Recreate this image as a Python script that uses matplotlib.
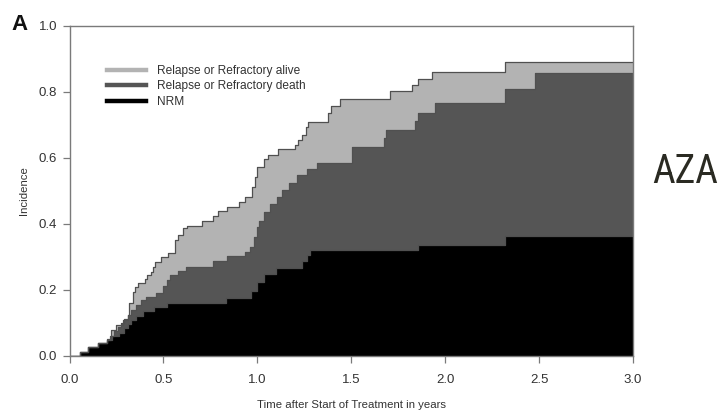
import matplotlib
matplotlib.use("Agg")
import matplotlib.pyplot as plt
from matplotlib.lines import Line2D

# Stacked cumulative incidence curves (step functions, time in years)
# Non-relapse mortality
nrm_time = [0, 0.056, 0.10, 0.15, 0.20, 0.225, 0.265, 0.29, 0.31, 0.33, 0.355,
            0.39, 0.45, 0.52, 0.834, 0.965, 1.0, 1.035, 1.10, 1.237, 1.264,
            1.28, 1.858, 2.317, 3.0]
nrm_top = [0, 0.013, 0.026, 0.039, 0.05, 0.06, 0.07, 0.085, 0.098, 0.11, 0.122,
           0.135, 0.148, 0.162, 0.177, 0.198, 0.225, 0.25, 0.267, 0.288, 0.305,
           0.32, 0.337, 0.364, 0.364]

# NRM + relapse/refractory death
death_time = [0, 0.056, 0.10, 0.15, 0.20, 0.215, 0.235, 0.257, 0.275, 0.292,
              0.31, 0.328, 0.354, 0.381, 0.407, 0.46, 0.497, 0.518, 0.535,
              0.58, 0.62, 0.766, 0.837, 0.935, 0.96, 0.98, 1.0, 1.01, 1.033,
              1.068, 1.104, 1.13, 1.17, 1.21, 1.264, 1.317, 1.503, 1.672,
              1.686, 1.837, 1.858, 1.944, 2.317, 2.476, 3.0]
death_top = [0, 0.013, 0.026, 0.039, 0.05, 0.062, 0.075, 0.088, 0.10, 0.112,
             0.125, 0.14, 0.155, 0.17, 0.18, 0.19, 0.213, 0.23, 0.245,
             0.258, 0.27, 0.289, 0.303, 0.316, 0.331, 0.362, 0.392, 0.41, 0.437,
             0.462, 0.483, 0.503, 0.523, 0.548, 0.568, 0.584, 0.632, 0.66,
             0.685, 0.713, 0.737, 0.768, 0.808, 0.857, 0.857]

# NRM + relapse/refractory death + relapse/refractory alive
alive_time = [0, 0.056, 0.10, 0.15, 0.20, 0.221, 0.248, 0.283, 0.31, 0.318,
              0.337, 0.35, 0.365, 0.40, 0.415, 0.434, 0.445, 0.457, 0.487,
              0.526, 0.562, 0.58, 0.606, 0.624, 0.704, 0.766, 0.793, 0.837,
              0.90, 0.935, 0.97, 0.99, 1.0, 1.033, 1.059, 1.112, 1.20, 1.219,
              1.24, 1.258, 1.27, 1.376, 1.393, 1.441, 1.707, 1.826, 1.858,
              1.93, 2.317, 3.0]
alive_top = [0, 0.013, 0.026, 0.039, 0.052, 0.079, 0.094, 0.109, 0.124, 0.16,
             0.195, 0.21, 0.22, 0.232, 0.245, 0.256, 0.27, 0.286, 0.30,
             0.311, 0.352, 0.367, 0.387, 0.394, 0.409, 0.424, 0.439, 0.452,
             0.468, 0.483, 0.513, 0.543, 0.574, 0.596, 0.609, 0.626, 0.639, 0.655,
             0.67, 0.695, 0.71, 0.735, 0.758, 0.78, 0.803, 0.821, 0.839,
             0.862, 0.891, 0.891]

labels = ["Relapse or Refractory alive", "Relapse or Refractory death", "NRM"]
colors = ["#b3b3b3", "#555555", "#000000"]
x_ticks = [0.0, 0.5, 1.0, 1.5, 2.0, 2.5, 3.0]
y_ticks = [0.0, 0.2, 0.4, 0.6, 0.8, 1.0]

plt.rcParams["font.family"] = ["Liberation Sans", "DejaVu Sans"]

fig = plt.figure(figsize=(7.2, 4.12), dpi=100)
ax = fig.add_axes([69.5 / 720, 56 / 412, 563.5 / 720, 330 / 412])

edge = "#505050"
for t, v, c in [(alive_time, alive_top, colors[0]),
                (death_time, death_top, colors[1]),
                (nrm_time, nrm_top, colors[2])]:
    ax.fill_between(t, v, 0, step="post", color=c, linewidth=0, zorder=2)
    ax.step(t, v, where="post", color=edge, linewidth=0.9, zorder=3)

ax.set_xlim(0, 3)
ax.set_ylim(0, 1)
ax.set_xticks(x_ticks)
ax.set_xticklabels([f"{x:.1f}" for x in x_ticks])
ax.set_yticks(y_ticks)
ax.set_yticklabels([f"{y:.1f}" for y in y_ticks])

frame_col = "#7a7a7a"
for s in ax.spines.values():
    s.set_color(frame_col)
    s.set_linewidth(1.0)
    s.set_zorder(4)
ax.tick_params(axis="both", direction="out", length=5, width=0.9,
               color=frame_col, labelcolor="#333333", labelsize=9.5)
ax.tick_params(axis="x", pad=8)
ax.tick_params(axis="y", pad=4)

ax.set_xlabel("Time after Start of Treatment in years", fontsize=8.2,
              color="#333333", labelpad=10)
ax.set_ylabel("Incidence", fontsize=8.2, color="#333333", labelpad=7)

handles = [Line2D([], [], color=c, linewidth=3.2) for c in colors]
ax.legend(handles, labels, loc="upper left", bbox_to_anchor=(0.058, 0.897),
          frameon=False, fontsize=8.6, handlelength=3.3, handletextpad=0.9,
          labelspacing=0.3, borderaxespad=0, labelcolor="#333333")

fig.text(11 / 720, 1 - 30 / 412, "A", fontsize=16, fontweight="bold",
         color="#111111", va="baseline", ha="left")

# Group label on the right margin, in a condensed face when one is available
aza = fig.text(652 / 720, 1 - 182.7 / 412, "AZA", fontsize=29, color="#2a2a22",
               va="baseline", ha="left",
               family=["Roboto Condensed", "Open Sans Condensed",
                       "Liberation Sans Narrow", "Liberation Sans"])
fig.canvas.draw()
w = aza.get_window_extent(fig.canvas.get_renderer()).width
if w > 66:
    aza.set_fontsize(29 * 66 / w)

fig.savefig("out.png", dpi=100)
